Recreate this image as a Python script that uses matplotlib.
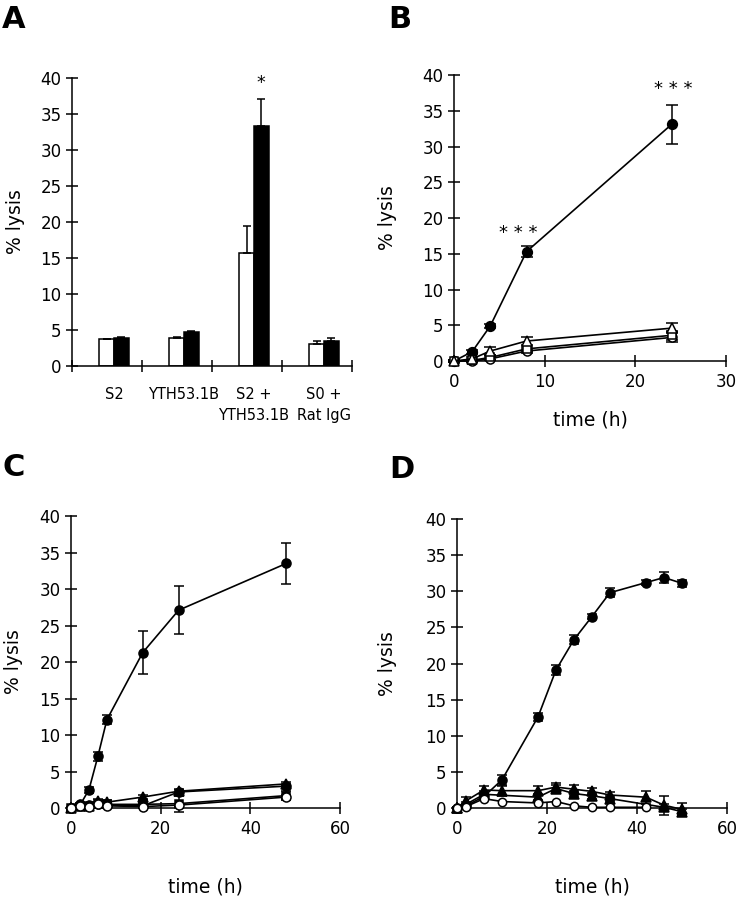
import matplotlib
matplotlib.use("Agg")
from matplotlib import pyplot as plt

plt.rcParams['font.family'] = ['DejaVu Sans']

# ---- panel A: bar chart ----
a_groups = ["S2", "YTH53.1B", "S2 +\nYTH53.1B", "S0 +\nRat IgG"]
a_white = [3.7, 3.9, 15.7, 3.1]
a_white_err = [0.1, 0.1, 3.8, 0.3]
a_black = [3.9, 4.7, 33.3, 3.5]
a_black_err = [0.1, 0.1, 3.8, 0.4]

# ---- panel B ----
b_time = [0, 2, 4, 8, 24]
b_filled = [0, 1.3, 4.9, 15.3, 33.1]
b_filled_err = [0.1, 0.3, 0.3, 0.8, 2.7]
b_tri = [0, 0.3, 1.4, 2.8, 4.6]
b_tri_err = [0.1, 0.2, 0.5, 0.5, 0.7]
b_sq = [0, 0.1, 0.5, 1.7, 3.6]
b_sq_err = [0.1, 0.2, 0.3, 0.3, 0.6]
b_circ = [0, 0, 0.3, 1.4, 3.3]
b_circ_err = [0.1, 0.1, 0.2, 0.3, 0.7]

# ---- panel C ----
c_time = [0, 2, 4, 6, 8, 16, 24, 48]
c_filled = [0, 0.4, 2.5, 7.1, 12.1, 21.3, 27.1, 33.5]
c_filled_err = [0.1, 0.2, 0.4, 0.6, 0.6, 2.9, 3.3, 2.8]
c_tri = [0, 0.4, 0.3, 0.9, 0.8, 1.5, 2.3, 3.3]
c_tri_err = [0.1, 0.2, 0.2, 0.3, 0.3, 0.3, 0.3, 0.3]
c_dot = [0, 0.5, 0.4, 0.6, 0.4, 0.3, 2.2, 3.0]
c_dot_err = [0.1, 0.2, 0.2, 0.2, 0.2, 0.2, 0.3, 0.3]
c_sq = [0, 0.2, 0.3, 0.5, 0.5, 0.5, 0.6, 1.7]
c_sq_err = [0.1, 0.2, 0.2, 0.2, 0.2, 0.3, 1.1, 0.6]
c_open = [0, 0.3, 0.2, 0.5, 0.3, 0.2, 0.4, 1.5]
c_open_err = [0.1, 0.1, 0.1, 0.2, 0.2, 0.2, 0.2, 0.3]

# ---- panel D ----
d_time = [0, 2, 6, 10, 18, 22, 26, 30, 34, 42, 46, 50]
d_filled = [0, 0.3, 1.6, 3.9, 12.6, 19.1, 23.3, 26.5, 29.8, 31.2, 31.9, 31.1]
d_filled_err = [0.1, 0.3, 0.5, 0.7, 0.6, 0.7, 0.6, 0.4, 0.6, 0.3, 0.8, 0.5]
d_tri = [0, 1.0, 2.5, 2.4, 2.4, 2.9, 2.6, 2.3, 1.8, 1.5, 0.4, -0.2]
d_tri_err = [0.1, 0.5, 0.6, 0.7, 0.6, 0.6, 0.6, 0.5, 0.4, 0.9, 1.3, 0.9]
d_time2 = [0, 2, 6, 18, 22, 26, 30, 34, 46, 50]
d_tri2 = [0, 0.5, 1.9, 1.5, 2.7, 2.0, 1.7, 1.3, 0.1, -0.5]
d_tri2_err = [0.1, 0.3, 0.4, 0.4, 0.5, 0.4, 0.4, 0.3, 0.5, 0.4]
d_time3 = [0, 2, 6, 10, 18, 22, 26, 30, 34, 42]
d_open = [0, 0.2, 1.3, 0.9, 0.7, 0.9, 0.3, 0.1, 0.1, 0.1]


def style_axis(ax, xmax=None, xstep=None):
    for s in ("top", "right"):
        ax.spines[s].set_visible(False)
    for s in ("left", "bottom"):
        ax.spines[s].set_linewidth(1.1)
    ax.set_ylim(0, 40)
    ax.set_yticks(range(0, 41, 5))
    ax.tick_params(axis="both", direction="inout", length=9, width=1.1,
                   labelsize=12, pad=3)
    if xmax is not None:
        ax.set_xlim(0, xmax)
        ax.set_xticks(range(0, xmax + 1, xstep))
        ax.tick_params(axis="x", pad=4)
    ax.set_ylabel("% lysis", fontsize=13.5, va="center")


def series(ax, t, y, err, marker, filled, cap, ms=6.5):
    cont = ax.errorbar(
        t, y, yerr=err, fmt="-", marker=marker, color="k",
        mfc="k" if filled else "white", mec="k", mew=1.1,
        ms=ms, lw=1.2, elinewidth=1.1, capsize=cap, capthick=1.1,
        zorder=3 if filled else 4,
    )
    for art in cont.get_children():
        art.set_clip_on(False)


fig = plt.figure(figsize=(7.36, 8.99), dpi=100)

# A
ax = fig.add_axes([0.0978, 0.5929, 0.3804, 0.3204])
style_axis(ax)
w = 0.21
pos = list(range(len(a_groups)))
ax.bar([p - w / 2 for p in pos], a_white, w, color="white", edgecolor="k",
       linewidth=1.1, yerr=[[0] * 4, a_white_err], capsize=3,
       error_kw=dict(elinewidth=1.1, capthick=1.1))
ax.bar([p + w / 2 for p in pos], a_black, w, color="k", edgecolor="k",
       linewidth=1.1, yerr=[[0] * 4, a_black_err], capsize=3,
       error_kw=dict(elinewidth=1.1, capthick=1.1))
ax.set_xlim(-0.6, 3.4)
ax.set_xticks([-0.6, 0.4, 1.4, 2.4, 3.4])
ax.set_xticklabels([])
ax.set_xticks(pos, minor=True)
ax.set_xticklabels(a_groups, minor=True, fontsize=10.5)
ax.tick_params(axis="x", which="minor", length=0, pad=15)
for lbl in ax.get_xticklabels(minor=True):
    lbl.set_linespacing(1.55)
    lbl.set_va("top")
ax.text(2 + w / 2, 39.3, "*", ha="center", va="center", fontsize=12.5)
ax.yaxis.set_label_coords(-0.2, 0.5)

# B
ax = fig.add_axes([0.6168, 0.5984, 0.3696, 0.3181])
style_axis(ax, 30, 10)
series(ax, b_time, b_circ, b_circ_err, "o", False, 4.5)
series(ax, b_time, b_sq, b_sq_err, "s", False, 4.5, ms=5.5)
series(ax, b_time, b_tri, b_tri_err, "^", False, 4.5, ms=7)
series(ax, b_time, b_filled, b_filled_err, "o", True, 4.5, ms=7)
ax.text(7.1, 17.9, "* * *", ha="center", va="center", fontsize=13)
ax.text(24.2, 38.1, "* * *", ha="center", va="center", fontsize=13)
ax.set_xlabel("time (h)", fontsize=13.5, va="center")
ax.xaxis.set_label_coords(0.5, -0.206)
ax.yaxis.set_label_coords(-0.243, 0.5)

# C
ax = fig.add_axes([0.0965, 0.1012, 0.3655, 0.3248])
style_axis(ax, 60, 20)
series(ax, c_time, c_open, c_open_err, "o", False, 3.5)
series(ax, c_time, c_sq, c_sq_err, "s", True, 3.5, ms=6)
series(ax, c_time, c_dot, c_dot_err, "o", True, 3.5)
series(ax, c_time, c_tri, c_tri_err, "^", True, 3.5, ms=7)
series(ax, c_time, c_filled, c_filled_err, "o", True, 3.5)
ax.set_xlabel("time (h)", fontsize=13.5, va="center")
ax.xaxis.set_label_coords(0.5, -0.27)
ax.yaxis.set_label_coords(-0.212, 0.5)

# D
ax = fig.add_axes([0.6209, 0.1012, 0.3668, 0.3215])
style_axis(ax, 60, 20)
series(ax, d_time3, d_open, [0] * len(d_open), "o", False, 0, ms=6)
series(ax, d_time2, d_tri2, d_tri2_err, "^", True, 3.5, ms=7)
series(ax, d_time, d_tri, d_tri_err, "^", True, 3.5, ms=7)
series(ax, d_time, d_filled, d_filled_err, "o", True, 3.5)
ax.set_xlabel("time (h)", fontsize=13.5, va="center")
ax.xaxis.set_label_coords(0.5, -0.273)
ax.yaxis.set_label_coords(-0.256, 0.5)

# panel letters
for letter, x, y in [("A", 14, 19), ("B", 400, 20), ("C", 14, 468), ("D", 402, 470)]:
    fig.text(x / 736, 1 - y / 899, letter, ha="center", va="center",
             fontsize=22, fontweight="bold")

fig.savefig("out.png", dpi=100)
